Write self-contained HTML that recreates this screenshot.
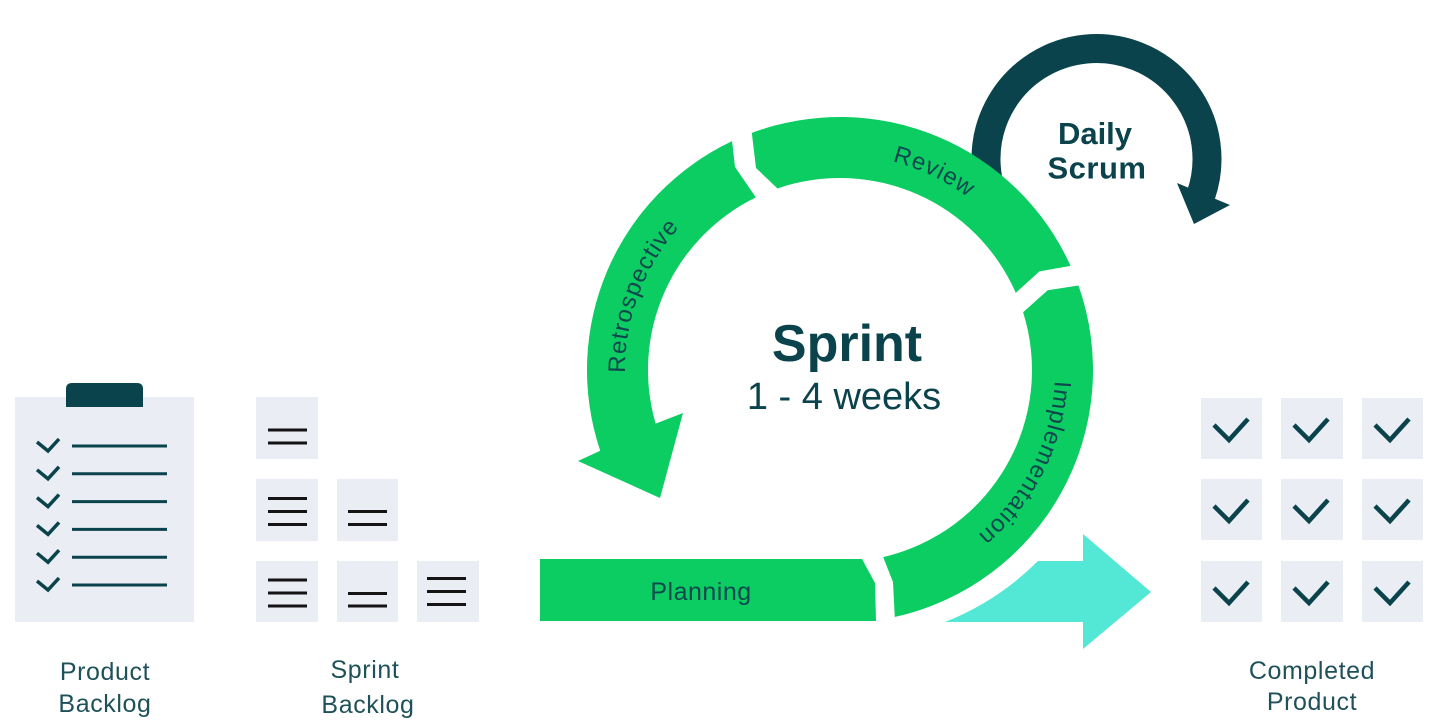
<!DOCTYPE html>
<html>
<head>
<meta charset="utf-8">
<style>
  html,body{margin:0;padding:0;background:#fff;}
  svg{display:block;}
  text{font-family:"Liberation Sans", sans-serif;}
</style>
</head>
<body>
<svg width="1444" height="728" viewBox="0 0 1444 728" xmlns="http://www.w3.org/2000/svg">
  <rect width="1444" height="728" fill="#ffffff"/>
  <defs>
    <path id="ringText" d="M 840,585 A 215 215 0 1 1 840,155 A 215 215 0 1 1 840,585"/>
  </defs>

  <!-- Product Backlog clipboard -->
  <rect x="15" y="397" width="179" height="225" fill="#eaedf4"/>
  <path d="M66,407 L66,389 Q66,383 72,383 L137,383 Q143,383 143,389 L143,407 Z" fill="#0a434b"/>
  <g stroke="#0a434b" stroke-width="3" fill="none">
    <line x1="72" y1="446" x2="167" y2="446"/>
    <line x1="72" y1="473.8" x2="167" y2="473.8"/>
    <line x1="72" y1="501.6" x2="167" y2="501.6"/>
    <line x1="72" y1="529.4" x2="167" y2="529.4"/>
    <line x1="72" y1="557.2" x2="167" y2="557.2"/>
    <line x1="72" y1="585" x2="167" y2="585"/>
  </g>
  <g stroke="#0a434b" stroke-width="3.5" fill="none" stroke-linejoin="miter">
    <polyline points="37,442 48,451 59,439"/>
    <polyline points="37,469.8 48,478.8 59,466.8"/>
    <polyline points="37,497.6 48,506.6 59,494.6"/>
    <polyline points="37,525.4 48,534.4 59,522.4"/>
    <polyline points="37,553.2 48,562.2 59,550.2"/>
    <polyline points="37,581 48,590 59,578"/>
  </g>

  <!-- Sprint Backlog -->
  <g fill="#eaedf4">
    <rect x="256" y="397" width="62" height="62"/>
    <rect x="256" y="479" width="62" height="62"/>
    <rect x="337" y="479" width="61" height="62"/>
    <rect x="256" y="561" width="62" height="61"/>
    <rect x="337" y="561" width="61" height="61"/>
    <rect x="417" y="561" width="62" height="61"/>
  </g>
  <g stroke="#141414" stroke-width="3">
    <line x1="268" y1="430" x2="307" y2="430"/>
    <line x1="268" y1="443" x2="307" y2="443"/>
    <line x1="268" y1="498.5" x2="307" y2="498.5"/>
    <line x1="268" y1="511.5" x2="307" y2="511.5"/>
    <line x1="268" y1="524.5" x2="307" y2="524.5"/>
    <line x1="348" y1="511.5" x2="387" y2="511.5"/>
    <line x1="348" y1="524.5" x2="387" y2="524.5"/>
    <line x1="268" y1="580" x2="307" y2="580"/>
    <line x1="268" y1="593" x2="307" y2="593"/>
    <line x1="268" y1="606" x2="307" y2="606"/>
    <line x1="348" y1="593.5" x2="387" y2="593.5"/>
    <line x1="348" y1="606" x2="387" y2="606"/>
    <line x1="427" y1="578.5" x2="466" y2="578.5"/>
    <line x1="427" y1="591.5" x2="466" y2="591.5"/>
    <line x1="427" y1="604.5" x2="466" y2="604.5"/>
  </g>

  <!-- Daily scrum arc (under green) -->
  <path d="M 1000.8,214.25 A 110.5 110.5 0 1 1 1200.98,194.97" fill="none" stroke="#0a434b" stroke-width="29"/>
  <polygon points="1177,183 1230,205 1194,224" fill="#0a434b"/>

  <!-- Green sprint segments -->
  <g fill="#0ccd62">
    <!-- Planning -->
    <path d="M540,559 L862,559 L875,583 L876,621 L540,621 Z"/>
    <!-- Implementation -->
    <path d="M 894.76,617.0 A 253 253 0 0 0 1078.49,285.55 L 1047.7,290.3 L 1023.1,312.26 A 192 192 0 0 1 883.19,557.08 L 893,582 Z"/>
    <!-- Review -->
    <path d="M 1070.58,265.89 A 253 253 0 0 0 751.81,132.87 L 756,168 L 777.49,188.46 A 192 192 0 0 1 1015.81,292.83 L 1039.5,271.4 Z"/>
    <!-- Retrospective -->
    <path d="M 732.08,141.17 A 253 253 0 0 0 600.21,450.70 L 578,461 L 660,498 L 683,413 L 655.62,423.57 A 192 192 0 0 1 755.83,197.43 L 735,167 Z"/>
  </g>

  <!-- Cyan arrow -->
  <path d="M 945,622 A 274 274 0 0 0 1038,561 L 1083,561 L 1083,534 L 1151,592 L 1083,649 L 1083,622 Z" fill="#52e8d5"/>

  <!-- Completed product grid -->
  <g fill="#eaedf4">
    <rect x="1201" y="398" width="61" height="61"/>
    <rect x="1281" y="398" width="62" height="61"/>
    <rect x="1362" y="398" width="61" height="61"/>
    <rect x="1201" y="479" width="61" height="61"/>
    <rect x="1281" y="479" width="62" height="61"/>
    <rect x="1362" y="479" width="61" height="61"/>
    <rect x="1201" y="561" width="61" height="61"/>
    <rect x="1281" y="561" width="62" height="61"/>
    <rect x="1362" y="561" width="61" height="61"/>
  </g>
  <g stroke="#0a434b" stroke-width="4.5" fill="none">
    <polyline points="1214,425 1229,440 1248,419"/>
    <polyline points="1294,425 1309,440 1328,419"/>
    <polyline points="1375,425 1390,440 1409,419"/>
    <polyline points="1214,506 1229,521 1248,500"/>
    <polyline points="1294,506 1309,521 1328,500"/>
    <polyline points="1375,506 1390,521 1409,500"/>
    <polyline points="1214,588 1229,603 1248,582"/>
    <polyline points="1294,588 1309,603 1328,582"/>
    <polyline points="1375,588 1390,603 1409,582"/>
  </g>

  <!-- Ring labels -->
  <g fill="#0f474e" font-size="24" letter-spacing="1">
    <text><textPath href="#ringText" startOffset="414.6" text-anchor="middle">Retrospective</textPath></text>
    <text><textPath href="#ringText" startOffset="770.4" text-anchor="middle">Review</textPath></text>
    <text><textPath href="#ringText" startOffset="1112.6" text-anchor="middle">Implementation</textPath></text>
  </g>
  <text x="701" y="600" font-size="25" fill="#0f474e" text-anchor="middle" letter-spacing="0.5">Planning</text>

  <!-- Center text -->
  <text x="847" y="361" font-size="52" font-weight="bold" fill="#0a434b" text-anchor="middle">Sprint</text>
  <text x="844" y="409" font-size="38" fill="#0a434b" text-anchor="middle">1 - 4 weeks</text>

  <!-- Daily Scrum -->
  <text x="1095" y="144" font-size="31" font-weight="bold" fill="#0a434b" text-anchor="middle">Daily</text>
  <text x="1097" y="178.5" font-size="31" font-weight="bold" fill="#0a434b" text-anchor="middle" letter-spacing="0.5">Scrum</text>

  <!-- Bottom labels -->
  <g fill="#1f5159" font-size="25" text-anchor="middle" letter-spacing="0.6">
    <text x="105" y="680">Product</text>
    <text x="105" y="712">Backlog</text>
    <text x="365" y="678">Sprint</text>
    <text x="368" y="713">Backlog</text>
    <text x="1312" y="679">Completed</text>
    <text x="1312" y="710">Product</text>
  </g>
</svg>
</body>
</html>
